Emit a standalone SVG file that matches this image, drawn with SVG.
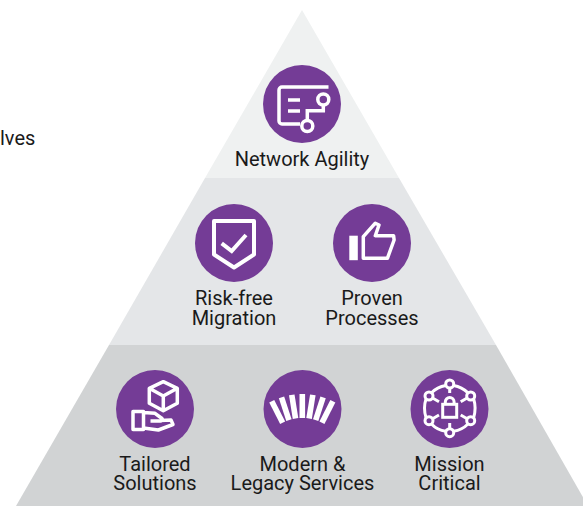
<svg xmlns="http://www.w3.org/2000/svg" width="583" height="506" viewBox="0 0 583 506">
<style>
text{font-family:Roboto,"Liberation Sans",sans-serif;font-size:20px;fill:#1a1a1a;text-anchor:middle}
.disc{fill:#743c96}
.i{fill:none;stroke:#fff;stroke-width:3.5}
.w{fill:#fff}
</style>
<rect width="583" height="506" fill="#fff"/>
<g id="tiers">
<polygon points="302,10 399,178 205,178" fill="#eff1f1"/>
<polygon points="205,178 399,178 496,345 109,345" fill="#e4e6e8"/>
<polygon points="109,345 496,345 588,506 16,506" fill="#d1d3d4"/>
</g>
<text x="0" y="145" style="text-anchor:start">lves</text>
<g id="network-agility">
<circle class="disc" cx="302" cy="104" r="39"/>
<path class="i" d="M328.500 87H282a3 3 0 0 0-3 3v31a3 3 0 0 0 3 3h18M288 100h12M288 111h12M323.300 105v5.700h-16v9.500"/>
<circle class="i" cx="323.300" cy="99.500" r="5.500"/>
<circle class="i" cx="307.300" cy="126" r="5.500"/>
<text x="302" y="166">Network Agility</text>
</g>
<g id="risk-free-migration">
<circle class="disc" cx="234" cy="243" r="39"/>
<path class="i" style="stroke-width:4" stroke-linejoin="round" d="M214 221h40v33.500l-20 13-20-13z"/>
<path class="i" style="stroke-width:4" d="M221.700 243.300l10 7.700 14.300-16"/>
<text x="234" y="305">Risk-free</text>
<text x="234" y="325">Migration</text>
</g>
<g id="proven-processes">
<circle class="disc" cx="372" cy="243" r="39"/>
<rect class="w" x="349.300" y="235.700" width="8.500" height="24.500"/>
<path class="i" stroke-linejoin="round" d="M363.300 236.700l12-13.500 3.700 1.800-3.700 10.700h18.300l.5 4.300-6.700 18.300h-24.100z"/>
<text x="372" y="305">Proven</text>
<text x="372" y="325">Processes</text>
</g>
<g id="tailored-solutions">
<circle class="disc" cx="155" cy="409" r="39"/>
<path class="i" stroke-linejoin="round" d="M163.300 381.700l14 6.600v15l-14 7.400-14-7.400v-15zM149.300 388.300l14 7.700 14-7.700M163.300 396v14.700"/>
<path class="i" stroke-linejoin="round" d="M133 411.500h10.500v18h-10.500zM143.500 412.500l11.500 .8 7 5.200-1 2.500h-10.500M160 420.500l11-.5 2 4.500-14.700 5.500-14.800-2"/>
<text x="155" y="471">Tailored</text>
<text x="155" y="490">Solutions</text>
</g>
<g id="modern-legacy-services">
<circle class="disc" cx="302.500" cy="409" r="39"/>
<g class="w">
<rect x="299.500" y="394" width="5.600" height="24" transform="rotate(-27 302.300 461.300)"/>
<rect x="299.500" y="394" width="5.600" height="24" transform="rotate(-18 302.300 461.300)"/>
<rect x="299.500" y="394" width="5.600" height="24" transform="rotate(-9 302.300 461.300)"/>
<rect x="299.500" y="394" width="5.600" height="24"/>
<rect x="299.500" y="394" width="5.600" height="24" transform="rotate(9 302.300 461.300)"/>
<rect x="299.500" y="394" width="5.600" height="24" transform="rotate(18 302.300 461.300)"/>
<rect x="299.500" y="394" width="5.600" height="24" transform="rotate(27 302.300 461.300)"/>
</g>
<text x="302.500" y="471">Modern &amp;</text>
<text x="302.500" y="490">Legacy Services</text>
</g>
<g id="mission-critical">
<circle class="disc" cx="449.500" cy="409" r="39"/>
<g class="i" style="stroke-width:3">
<circle cx="449.700" cy="384" r="4"/>
<circle cx="449.700" cy="432.700" r="4"/>
<circle cx="429" cy="396" r="4"/>
<circle cx="470.700" cy="396" r="4"/>
<circle cx="429" cy="420.700" r="4"/>
<circle cx="470.700" cy="420.700" r="4"/>
<path d="M445.800 385.500Q437 387 431.500 392.800M453.600 385.500Q462 387 468 392.800M426 399Q423 408 426 417.500M473.700 399Q476.500 408 473.700 417.500M431.500 424Q437 430 445.800 431.200M468 424Q462 430 453.600 431.200M449.700 388v5M449.700 423v5.500M433 418.500l6-3.500M466.700 418.500l-6-3.500M433 398.200l6 3.500M466.700 398.200l-6 3.500"/>
<rect x="442.700" y="404.300" width="14" height="13"/>
<path d="M445.300 404v-2a4.400 4.400 0 0 1 8.800 0v2"/>
</g>
<text x="449.500" y="471">Mission</text>
<text x="449.500" y="490">Critical</text>
</g>
<g id="connectors"/>
</svg>
